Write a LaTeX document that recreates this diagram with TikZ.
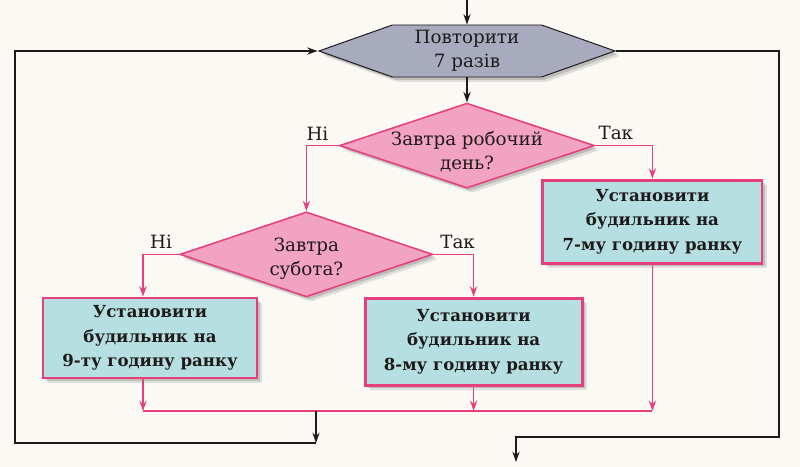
\documentclass[tikz,border=0pt]{standalone}
\usepackage{fontspec}
\setmainfont{DejaVu Serif}
\usepackage{xcolor}
\usetikzlibrary{shapes.geometric,shapes.symbols,shadows,arrows.meta}
\definecolor{paper}{RGB}{250,249,244}
\definecolor{loopgray}{RGB}{168,170,190}
\definecolor{rosefill}{RGB}{243,163,194}
\definecolor{roseline}{RGB}{231,62,126}
\definecolor{tealfill}{RGB}{181,223,225}
\definecolor{ink}{RGB}{30,26,26}

\begin{document}
\begin{tikzpicture}[every node/.style={font=\fontsize{13}{17}\selectfont,text=ink,align=center},
  softshadow/.style={drop shadow={shadow xshift=1.2mm,shadow yshift=-1.2mm,opacity=0.22},
    drop shadow={shadow xshift=0.7mm,shadow yshift=-0.7mm,opacity=0.35}},
  loopbox/.style={signal,signal to=west and east,signal pointer angle=39,draw=ink,line width=0.7pt,fill=loopgray,softshadow,inner sep=0pt},
  cond/.style={diamond,draw=roseline,line width=1.1pt,fill=rosefill,softshadow,inner sep=0pt},
  act/.style={rectangle,draw=roseline,line width=2pt,fill=tealfill,softshadow,font=\fontsize{11.8}{17.5}\selectfont\bfseries},
  flow/.style={draw=ink,line width=0.8pt},
  yesno/.style={draw=roseline,line width=1.1pt},
  >={Stealth[length=2.6mm,width=1.8mm]}]
\fill[paper] (0,0) rectangle (20,-11.675);
\useasboundingbox (0,0) rectangle (20,-11.675);

\node[loopbox,minimum width=7.4cm,minimum height=1.3cm] (rep) at (11.675,-1.275) {Повторити\\7 разів};
\node[cond,minimum width=6.375cm,minimum height=2.125cm] (work) at (11.675,-3.64) {};
\node (worktxt) at ([yshift=-1.5mm]work.center) {Завтра робочий\\день?};
\node[cond,minimum width=6.325cm,minimum height=2.125cm] (sat) at (7.66,-6.36) {};
\node (sattxt) at ([yshift=-1mm]sat.center) {Завтра\\субота?};
\node[act,minimum width=5.475cm,minimum height=2.075cm] (seven) at (16.31,-5.54) {Установити\\будильник на\\7-му годину ранку};
\node[act,minimum width=5.35cm,minimum height=2cm] (nine) at (3.75,-8.45) {Установити\\будильник на\\9-ту годину ранку};
\node[act,minimum width=5.425cm,minimum height=2.175cm] (eight) at (11.84,-8.54) {Установити\\будильник на\\8-му годину ранку};

\coordinate (start) at (11.675,0);
\coordinate (merge) at (7.9,-10.275);
\coordinate (back) at (7.9,-11.075);
\coordinate (lefttop) at (0.375,-1.275);
\coordinate (righttop) at (19.475,-1.275);
\coordinate (rightlow) at (19.475,-10.925);
\coordinate (exit) at (12.9,-11.55);
\coordinate (ninein) at ([xshift=-1.75mm]nine.north);
\coordinate (nineout) at ([xshift=-1.75mm]nine.south);

\draw[flow,->] (start) -- (rep.north);
\draw[flow,->] (rep.south) -- (work.north);
\draw[yesno,->] (work.west) -| (sat.north) node[pos=0.33,above] {Ні};
\draw[yesno,->] (work.east) -| (seven.north) node[pos=0.18,above] {Так};
\draw[yesno,->] (sat.west) -| (ninein) node[pos=0.25,above] {Ні};
\draw[yesno,->] (sat.east) -| (eight.north) node[pos=0.3,above] {Так};
\draw[yesno,->] (nineout) -- (nineout |- merge);
\draw[yesno,->] (eight.south) -- (eight.south |- merge);
\draw[yesno,->] (seven.south) -- (seven.south |- merge);
\draw[yesno] (nineout |- merge) -- (seven.south |- merge);
\draw[flow,->] (merge) -- (back);
\draw[flow,->] (back) -| (lefttop) -- (rep.west);
\draw[flow,->] (rep.east) -- (righttop) -- (rightlow) -| (exit);
\end{tikzpicture}
\end{document}
